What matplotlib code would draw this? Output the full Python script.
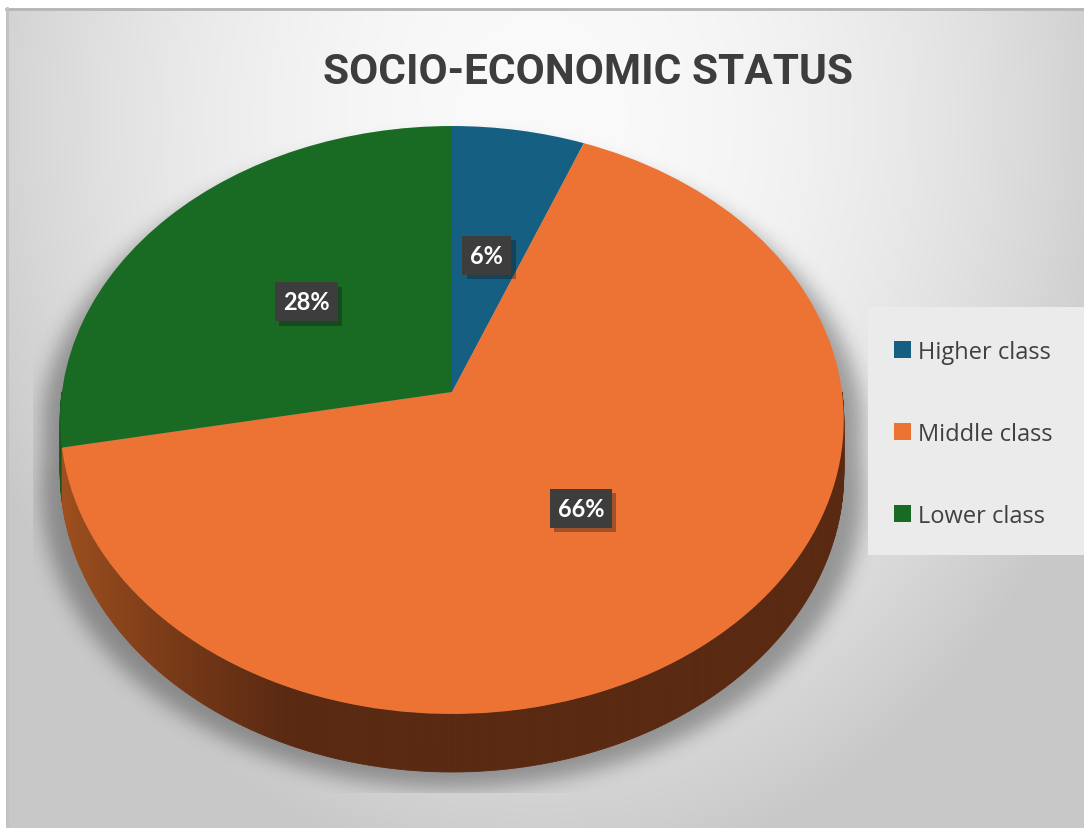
import numpy as np
import matplotlib
matplotlib.use('Agg')
import matplotlib.pyplot as plt
import matplotlib.transforms as mtransforms
import matplotlib.patheffects as pe
from matplotlib.collections import PolyCollection
from matplotlib.patches import Rectangle
from matplotlib.path import Path

categories = ['Higher class', 'Middle class', 'Lower class']
shares = [6, 66, 28]
top_colors = ['#156082', '#EC7333', '#196B24']
wall_light = ['#104A66', '#A3521F', '#145A1D']
wall_dark = ['#0A2E40', '#5A2912', '#0C3512']
title = 'SOCIO-ECONOMIC STATUS'

W, H = 1084, 829

# the disc is tilted away from the viewer; everything below is in pixels, y down
CX, CY = 452.0, 393.0
RX, RY, G = 390.0, 291.3, 0.0952
DEPTH = 52.5


def project(x, y):
    k = 1.0 / (1.0 + G * y)
    return CX + RX * x * k, CY - RY * y * k


class Tilt(mtransforms.Transform):
    input_dims = 2
    output_dims = 2

    def transform_non_affine(self, values):
        v = np.asarray(values, float).reshape(-1, 2)
        px, py = project(v[:, 0], v[:, 1])
        return np.column_stack([px, py])


def rim(t):
    px, py = project(np.cos(t), np.sin(t))
    return px, py, DEPTH / (1.0 + G * np.sin(t))


def blur(img, sigma):
    r = int(3 * sigma)
    k = np.exp(-0.5 * (np.arange(-r, r + 1) / sigma) ** 2)
    k /= k.sum()
    img = np.apply_along_axis(lambda a: np.convolve(a, k, mode='same'), 1, img)
    img = np.apply_along_axis(lambda a: np.convolve(a, k, mode='same'), 0, img)
    return img


fig = plt.figure(figsize=(W / 100, H / 100), dpi=100)
fig.patch.set_facecolor('white')
ax = fig.add_axes([0, 0, 1, 1])

# pie top face
wedges, _, autotexts = ax.pie(
    shares, colors=top_colors, startangle=90, counterclock=False,
    autopct='%1.0f%%', pctdistance=0.5, labeldistance=None,
    wedgeprops=dict(linewidth=0),
    textprops=dict(color='white', fontsize=17, fontweight='bold',
                   family=['Lato', 'DejaVu Sans']))
tilt = Tilt() + ax.transData
for w in wedges:
    w.set_transform(tilt)
    w.set_zorder(2)
for t in autotexts:
    t.set_transform(tilt)
    t.set_zorder(4)
    t.set_bbox(dict(boxstyle='square,pad=0.34', facecolor='#3d3d3d', edgecolor='none'))
    t.get_bbox_patch().set_path_effects(
        [pe.SimplePatchShadow(offset=(3, -3), alpha=0.35), pe.Normal()])

# slice boundaries in degrees (clockwise from 12 o'clock)
cum = np.concatenate([[0], np.cumsum(shares)]) / sum(shares)
bounds = 90 - 360 * cum


def slice_of(deg):
    for i in range(len(shares)):
        lo, hi = bounds[i + 1], bounds[i]
        d = (deg - lo) % 360
        if d <= hi - lo:
            return i
    return 0


# side wall of the front half
ts = np.radians(np.linspace(-180, 0, 361))
px, py, dp = rim(ts)
quads, fcs = [], []
for j in range(len(ts) - 1):
    quads.append([(px[j], py[j]), (px[j + 1], py[j + 1]),
                  (px[j + 1], py[j + 1] + dp[j + 1]), (px[j], py[j] + dp[j])])
    i = slice_of(np.degrees(0.5 * (ts[j] + ts[j + 1])))
    f = np.clip((0.5 * (px[j] + px[j + 1]) - 57) / 230, 0, 1) ** 0.8
    c0 = np.array(matplotlib.colors.to_rgb(wall_light[i]))
    c1 = np.array(matplotlib.colors.to_rgb(wall_dark[i]))
    fcs.append(c0 * (1 - f) + c1 * f)
ax.add_collection(PolyCollection(quads, facecolors=fcs, edgecolors=fcs,
                                 linewidths=0.6, zorder=1))

# background
yy, xx = np.mgrid[9:H, 6:W]
r2 = ((xx - 540) / 600.0) ** 2 + ((yy - 120) / 750.0) ** 2
bg = np.clip(250 - 48 * r2, 200, 255) / 255.0
ax.imshow(np.dstack([bg, bg, bg]), extent=(6, W, H, 9), zorder=0,
          interpolation='bilinear')
ax.plot([6, W], [9.5, 9.5], color='#b6b6b6', lw=2, zorder=0.2)
ax.plot([6.5, 6.5], [9, H], color='#c2c2c2', lw=2, zorder=0.2)

# soft shadow under the pie
tu = np.radians(np.linspace(0, 180, 181))
tl = np.radians(np.linspace(180, 360, 181))
ux, uy, _ = rim(tu)
lx, ly, ld = rim(tl)
sil = np.column_stack([np.concatenate([ux, lx]), np.concatenate([uy, ly + ld])])
sil[:, 0] = 448 + (sil[:, 0] - 448) * 1.05
sil[:, 1] = sil[:, 1] + 16
gy, gx = np.mgrid[0:H, 0:W]
inside = Path(sil).contains_points(np.column_stack([gx.ravel() + 0.5, gy.ravel() + 0.5]))
shade = blur(inside.reshape(H, W).astype(float), 10) * 0.33
shade[:, :33] = 0
shade[794:, :] = 0
rgba = np.zeros((H, W, 4))
rgba[..., 3] = shade
ax.imshow(rgba, extent=(0, W, H, 0), zorder=0.5, interpolation='bilinear')

# legend
ax.add_patch(Rectangle((868, 308), W - 868, 248, facecolor='#ebebeb',
                       edgecolor='none', zorder=0.6))
leg = ax.legend(wedges, categories, loc='center left',
                bbox_to_anchor=(894 / W, 1 - 435 / H), bbox_transform=fig.transFigure,
                frameon=False, handlelength=0.72, handleheight=0.72,
                handletextpad=0.3, labelspacing=2.45, borderpad=0, borderaxespad=0,
                prop=dict(family=['Open Sans', 'DejaVu Sans'], size=17))
for txt in leg.get_texts():
    txt.set_color('#404040')

ax.text(588, 72, title, ha='center', va='center', fontsize=30.5, fontweight='bold',
        color='#3d3d3d', family=['Roboto', 'DejaVu Sans'], zorder=5)

ax.set_aspect('auto')
ax.set_xlim(0, W)
ax.set_ylim(H, 0)
ax.axis('off')

fig.savefig('out.png', dpi=100)
